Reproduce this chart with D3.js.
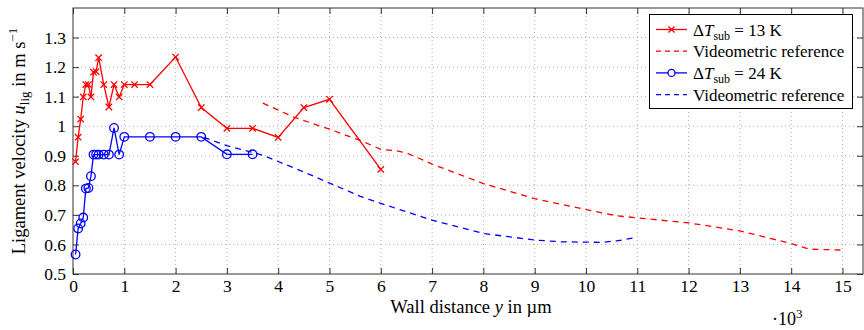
<!DOCTYPE html>
<html>
<head>
<meta charset="utf-8">
<script src="https://cdn.jsdelivr.net/npm/d3@7"></script>
<style>
  body { margin: 0; background: #fff; }
  svg text { font-family: "Liberation Serif", "DejaVu Serif", serif; fill: #000; }
</style>
</head>
<body>
<div id="chart"></div>
<script>
// wall distance in 10^3 µm, velocity in m/s
const x13 = [0.05, 0.1, 0.15, 0.2, 0.25, 0.3, 0.35, 0.4, 0.45, 0.5, 0.6, 0.7, 0.8, 0.9, 1.0, 1.2, 1.5, 2.0, 2.5, 3.0, 3.5, 4.0, 4.5, 5.0, 6.0];
const u13 = [0.88, 0.963, 1.024, 1.099, 1.141, 1.141, 1.099, 1.183, 1.185, 1.232, 1.141, 1.065, 1.141, 1.099, 1.141, 1.141, 1.141, 1.234, 1.063, 0.993, 0.993, 0.962, 1.063, 1.091, 0.854];

const x24 = [0.05, 0.1, 0.15, 0.2, 0.25, 0.3, 0.35, 0.4, 0.45, 0.5, 0.6, 0.7, 0.8, 0.9, 1.0, 1.5, 2.0, 2.5, 3.0, 3.5];
const u24 = [0.566, 0.654, 0.671, 0.691, 0.789, 0.791, 0.831, 0.904, 0.904, 0.904, 0.904, 0.904, 0.994, 0.904, 0.964, 0.964, 0.964, 0.964, 0.905, 0.905];

const xRef13 = [3.7, 4.3, 5.0, 5.6, 6.0, 6.3, 6.5, 7.0, 8.0, 9.0, 10.0, 10.6, 11.0, 12.0, 13.0, 14.0, 14.35, 15.0];
const uRef13 = [1.078, 1.031, 0.99, 0.952, 0.922, 0.917, 0.91, 0.872, 0.806, 0.755, 0.718, 0.697, 0.69, 0.673, 0.646, 0.603, 0.584, 0.581];

const xRef24 = [2.55, 3.0, 3.7, 4.5, 5.6, 6.0, 7.0, 8.0, 9.0, 9.5, 10.3, 10.6, 11.0];
const uRef24 = [0.962, 0.934, 0.902, 0.845, 0.763, 0.739, 0.682, 0.637, 0.615, 0.609, 0.607, 0.612, 0.624];

const xTicks = d3.range(0, 16);
const yTicks = [0.5, 0.6, 0.7, 0.8, 0.9, 1.0, 1.1, 1.2, 1.3];

const svgWidth = 864;
const svgHeight = 330;
const margin = { top: 8, right: 1, bottom: 56, left: 73 };
const width = svgWidth - margin.left - margin.right;
const height = svgHeight - margin.top - margin.bottom;

const svg = d3.select("#chart")
              .append("svg")
              .attr("width", svgWidth)
              .attr("height", svgHeight);

const g = svg.append("g")
             .attr("transform", `translate(${margin.left},${margin.top})`);

const x = d3.scaleLinear().domain([0, 15.4]).range([0, width]);
const y = d3.scaleLinear().domain([0.5, 1.4]).range([height, 0]);

// grid
g.append("g")
 .selectAll("line")
 .data(xTicks.slice(1))
 .join("line")
 .attr("x1", d => x(d)).attr("x2", d => x(d))
 .attr("y1", 0).attr("y2", height)
 .attr("stroke", "#999").attr("stroke-width", 0.8)
 .attr("stroke-dasharray", "1,3");

g.append("g")
 .selectAll("line")
 .data(yTicks.slice(1))
 .join("line")
 .attr("x1", 0).attr("x2", width)
 .attr("y1", d => y(d)).attr("y2", d => y(d))
 .attr("stroke", "#999").attr("stroke-width", 0.8)
 .attr("stroke-dasharray", "1,3");

// axes: inward ticks on all four sides
const tickLen = 6;
const axisStyle = sel => {
    sel.select(".domain").remove();
    sel.selectAll(".tick line").attr("stroke", "#333");
    sel.selectAll("text").style("font-size", "17.5px");
};

g.append("g")
 .attr("transform", `translate(0,${height})`)
 .call(d3.axisBottom(x).tickValues(xTicks).tickFormat(d3.format("d")).tickSizeInner(-tickLen).tickSizeOuter(0).tickPadding(6))
 .call(axisStyle);

g.append("g")
 .call(d3.axisTop(x).tickValues(xTicks).tickSizeInner(-tickLen).tickSizeOuter(0).tickFormat(""))
 .call(axisStyle);

g.append("g")
 .call(d3.axisLeft(y).tickValues(yTicks).tickFormat(d => d === 1 ? "1" : d3.format(".1f")(d)).tickSizeInner(-tickLen).tickSizeOuter(0).tickPadding(7))
 .call(axisStyle);

g.append("g")
 .attr("transform", `translate(${width},0)`)
 .call(d3.axisRight(y).tickValues(yTicks).tickSizeInner(-tickLen).tickSizeOuter(0).tickFormat(""))
 .call(axisStyle);

g.append("rect")
 .attr("width", width).attr("height", height)
 .attr("fill", "none").attr("stroke", "#333").attr("stroke-width", 1);

// series
const line = d3.line().x(d => x(d[0])).y(d => y(d[1]));
const zip = (a, b) => a.map((v, i) => [v, b[i]]);

const plot = g.append("g");

plot.append("path")
    .datum(zip(xRef13, uRef13))
    .attr("d", line)
    .attr("fill", "none").attr("stroke", "#ff0000").attr("stroke-width", 1.3)
    .attr("stroke-dasharray", "6,5");

plot.append("path")
    .datum(zip(xRef24, uRef24))
    .attr("d", line)
    .attr("fill", "none").attr("stroke", "#0000ff").attr("stroke-width", 1.3)
    .attr("stroke-dasharray", "6,5");

plot.append("path")
    .datum(zip(x24, u24))
    .attr("d", line)
    .attr("fill", "none").attr("stroke", "#0000ff").attr("stroke-width", 1.3);

plot.selectAll(".circ")
    .data(zip(x24, u24))
    .join("circle")
    .attr("class", "circ")
    .attr("cx", d => x(d[0])).attr("cy", d => y(d[1]))
    .attr("r", 4.3)
    .attr("fill", "none").attr("stroke", "#0000ff").attr("stroke-width", 1.3);

plot.append("path")
    .datum(zip(x13, u13))
    .attr("d", line)
    .attr("fill", "none").attr("stroke", "#ff0000").attr("stroke-width", 1.3);

const crossPath = (cx, cy, s) =>
    `M${cx - s},${cy - s}L${cx + s},${cy + s}M${cx - s},${cy + s}L${cx + s},${cy - s}`;

plot.selectAll(".cross")
    .data(zip(x13, u13))
    .join("path")
    .attr("class", "cross")
    .attr("d", d => crossPath(x(d[0]), y(d[1]), 3.2))
    .attr("fill", "none").attr("stroke", "#ff0000").attr("stroke-width", 1.3);

// axis labels
const xl = svg.append("text")
   .attr("x", 471)
   .attr("y", 313)
   .attr("text-anchor", "middle")
   .style("font-size", "18.5px");
xl.append("tspan").text("Wall distance ");
xl.append("tspan").style("font-style", "italic").text("y");
xl.append("tspan").text(" in µm");

const sc = svg.append("text")
   .attr("x", 772)
   .attr("y", 325)
   .style("font-size", "18px");
sc.append("tspan").text("·10");
sc.append("tspan").attr("dy", -7).style("font-size", "13px").text("3");

const yl = svg.append("text")
   .attr("transform", `translate(25,${margin.top + height / 2}) rotate(-90)`)
   .attr("text-anchor", "middle")
   .style("font-size", "18.5px");
yl.append("tspan").text("Ligament velocity ");
yl.append("tspan").style("font-style", "italic").text("u");
yl.append("tspan").attr("dy", 4).style("font-size", "13px").text("lig");
yl.append("tspan").attr("dy", -4).text(" in m s");
yl.append("tspan").attr("dy", -8).style("font-size", "13px").text("−1");

// legend
const legendItems = [
    { color: "#ff0000", dash: null, marker: "cross", temp: "13" },
    { color: "#ff0000", dash: "5,4", marker: null, temp: null },
    { color: "#0000ff", dash: null, marker: "circle", temp: "24" },
    { color: "#0000ff", dash: "5,4", marker: null, temp: null }
];

const lg = svg.append("g");
lg.append("rect")
  .attr("x", 649.5).attr("y", 14.5)
  .attr("width", 203).attr("height", 94)
  .attr("fill", "#fff").attr("stroke", "#000").attr("stroke-width", 1);

legendItems.forEach((d, i) => {
    const cy = 29.5 + i * 21.7;
    lg.append("line")
      .attr("x1", 656).attr("x2", 687).attr("y1", cy).attr("y2", cy)
      .attr("stroke", d.color).attr("stroke-width", 1.3)
      .attr("stroke-dasharray", d.dash);
    if (d.marker === "cross") {
        lg.append("path").attr("d", crossPath(671.5, cy, 3))
          .attr("stroke", d.color).attr("stroke-width", 1.3);
    } else if (d.marker === "circle") {
        lg.append("circle").attr("cx", 671.5).attr("cy", cy).attr("r", 3.5)
          .attr("fill", "#fff").attr("stroke", d.color).attr("stroke-width", 1.3);
    }
    const t = lg.append("text").attr("x", 693).attr("y", cy + 6).style("font-size", "17px");
    if (d.temp) {
        t.append("tspan").text("Δ");
        t.append("tspan").style("font-style", "italic").text("T");
        t.append("tspan").attr("dy", 4).style("font-size", "12px").text("sub");
        t.append("tspan").attr("dy", -4).text(" = " + d.temp + " K");
    } else {
        t.text("Videometric reference");
    }
});
</script>
</body>
</html>
